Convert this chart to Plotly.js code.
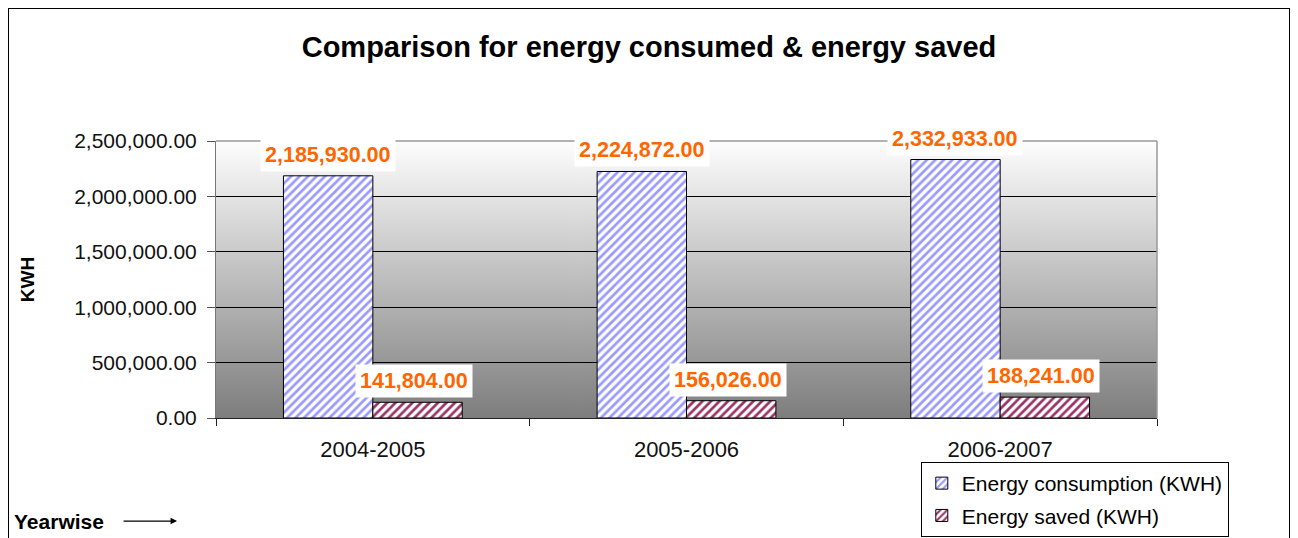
<!DOCTYPE html>
<html>
<head>
<meta charset="utf-8">
<script src="https://cdn.plot.ly/plotly-3.0.1.min.js"></script>
<style>
  html, body { margin: 0; padding: 0; background: #fff; overflow: hidden; }
  #chart { width: 1298px; height: 538px; position: absolute; left: 0; top: 0; }
  #frame { position: absolute; left: 8px; top: 8px; width: 1280px; height: 560px; border: 1px solid #000; pointer-events: none; }
</style>
</head>
<body>
<div id="chart"></div>
<div id="frame"></div>
<script>
const categories = ["2004-2005", "2005-2006", "2006-2007"];
const consumption = [2185930, 2224872, 2332933];
const saved = [141804, 156026, 188241];
const seriesNames = ["Energy consumption (KWH)", "Energy saved (KWH)"];
const yTicks = [0, 500000, 1000000, 1500000, 2000000, 2500000];

function gradientURL() {
  const c = document.createElement("canvas");
  c.width = 4; c.height = 256;
  const g = c.getContext("2d");
  const grd = g.createLinearGradient(0, 0, 0, 256);
  grd.addColorStop(0, "#fefefe");
  grd.addColorStop(1, "#7e7e7e");
  g.fillStyle = grd;
  g.fillRect(0, 0, 4, 256);
  return c.toDataURL();
}

const fmt = v => v.toLocaleString("en-US", {minimumFractionDigits: 2, maximumFractionDigits: 2});
const FONT = "Liberation Sans, Arial, sans-serif";
const labelFont = { family: FONT, size: 21.5, color: "#ff6600", weight: "bold" };

const traces = [
  {
    type: "bar", name: seriesNames[0], x: categories, y: consumption, legendgroup: "a",
    marker: { color: "#ffffff", line: { color: "#000", width: 1 },
      pattern: { shape: "/", fgcolor: "#9999ff", bgcolor: "#ffffff", size: 6, solidity: 0.45, fillmode: "replace" } },
    hoverinfo: "skip"
  },
  {
    type: "bar", name: seriesNames[1], x: categories, y: saved, legendgroup: "b",
    marker: { color: "#ffffff", line: { color: "#000", width: 1 },
      pattern: { shape: "/", fgcolor: "#993366", bgcolor: "#ffffff", size: 6, solidity: 0.45, fillmode: "replace" } },
    hoverinfo: "skip"
  }
];

const annotations = [];
categories.forEach((c, i) => {
  annotations.push({ x: c, y: consumption[i], xref: "x", yref: "y", text: fmt(consumption[i]),
    showarrow: false, yanchor: "bottom", xshift: -45, yshift: 4, bgcolor: "#ffffff", borderpad: 4,
    font: labelFont });
  annotations.push({ x: c, y: saved[i], xref: "x", yref: "y", text: fmt(saved[i]),
    showarrow: false, yanchor: "bottom", xshift: 41, yshift: 4, bgcolor: "#ffffff", borderpad: 4,
    font: labelFont });
});
annotations.push({ xref: "paper", yref: "paper", x: -0.2168, y: -0.372, xanchor: "left", yanchor: "middle",
  text: "<b>Yearwise</b>", showarrow: false, font: { family: FONT, size: 21, color: "#000" } });
annotations.push({ xref: "paper", yref: "paper", x: -0.0414, y: -0.372, ax: -55, ay: 0, text: "",
  showarrow: true, arrowhead: 2, arrowsize: 1, arrowwidth: 1.3, arrowcolor: "#000" });

const layout = {
  width: 1298, height: 538,
  margin: { l: 216, r: 141, t: 141, b: 120, autoexpand: false },
  paper_bgcolor: "rgba(0,0,0,0)",
  plot_bgcolor: "rgba(0,0,0,0)",
  font: { family: FONT, size: 20, color: "#111" },
  title: { text: "<b>Comparison for energy consumed & energy saved</b>", x: 0.5, xref: "container", y: 0.9126, yref: "container", yanchor: "middle",
    font: { family: FONT, size: 29, color: "#000" } },
  barmode: "group", bargap: 0.43, bargroupgap: 0,
  xaxis: { type: "category", showgrid: false, showline: true, linecolor: "#222", linewidth: 1, automargin: false,
    ticks: "outside", ticklen: 7, tickcolor: "#222", tickson: "boundaries", ticklabelstandoff: 12,
    tickfont: { size: 22, color: "#111" }, fixedrange: true },
  yaxis: { range: [0, 2500000], tickvals: yTicks, tickformat: ",.2f", showgrid: true, gridcolor: "#000", gridwidth: 1,
    showline: true, linecolor: "#777", ticks: "outside", ticklen: 8, tickcolor: "#555", zeroline: false, automargin: false,
    ticklabelstandoff: 6,
    tickfont: { size: 21, color: "#111" }, fixedrange: true,
    title: { text: "<b>KWH</b>", standoff: 34, font: { size: 19, color: "#000" } } },
  legend: { x: 0.749, xanchor: "left", y: -0.1588, yanchor: "top", bgcolor: "#fff", bordercolor: "#000", borderwidth: 1,
    font: { size: 21, color: "#000" }, tracegroupgap: 2, itemwidth: 30 },
  images: [{ source: gradientURL(), xref: "paper", yref: "paper", x: 0, y: 1, sizex: 1, sizey: 1,
    sizing: "stretch", layer: "below", xanchor: "left", yanchor: "top" }],
  shapes: [
    { type: "line", xref: "paper", yref: "paper", x0: 1, x1: 1, y0: 0, y1: 1, line: { color: "#999", width: 1.5 } },
    { type: "line", xref: "paper", yref: "paper", x0: 0, x1: 1, y0: 1, y1: 1, line: { color: "#999", width: 1.5 } }
  ],
  annotations: annotations,
  showlegend: true
};

Plotly.newPlot("chart", traces, layout, { displayModeBar: false, staticPlot: true });
</script>
</body>
</html>
